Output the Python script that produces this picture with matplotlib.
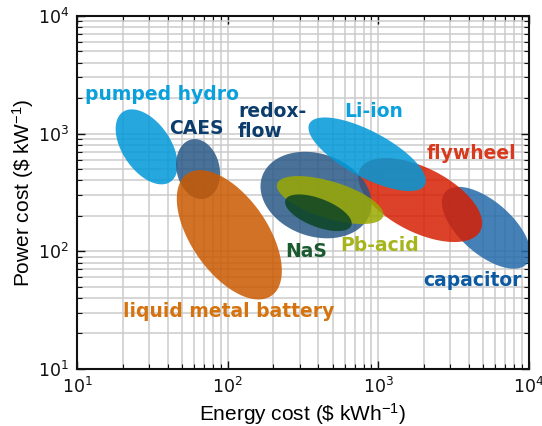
import numpy as np
import matplotlib
matplotlib.use("Agg")
import matplotlib.pyplot as plt

plt.rcParams["mathtext.default"] = "regular"

# Storage technologies, in drawing order (first drawn lies underneath)
techs = ["capacitor", "flywheel", "redox-flow", "Pb-acid", "NaS",
         "Li-ion", "pumped hydro", "CAES", "liquid metal battery"]

# Centre of each cost region
energy_cost = [5220, 1899, 386, 479, 400, 844, 28.9, 63.5, 102.4]   # $ kWh^-1
power_cost = [158, 272, 300, 272, 212, 667, 771, 499, 137.7]        # $ kW^-1

# Half-extent of each region in decades, and the energy/power correlation
energy_halfspan = [0.2945, 0.412, 0.369, 0.354, 0.2215, 0.390, 0.206, 0.146, 0.349]
power_halfspan = [0.348, 0.357, 0.368, 0.204, 0.156, 0.313, 0.319, 0.255, 0.550]
correlation = [-0.62, -0.55, -0.2, -0.6, -0.58, -0.72, -0.48, -0.15, -0.556]

fill_colors = {
    "capacitor": "#246bab",
    "flywheel": "#d61f03",
    "redox-flow": "#2a5986",
    "Pb-acid": "#9aa900",
    "NaS": "#0c4424",
    "Li-ion": "#0099d9",
    "pumped hydro": "#0099d9",
    "CAES": "#2a5986",
    "liquid metal battery": "#cb5900",
}

label_colors = {
    "capacitor": "#0b5aa2",
    "flywheel": "#d93a1e",
    "redox-flow": "#0b3c6b",
    "Pb-acid": "#a6b51c",
    "NaS": "#1a5a2e",
    "Li-ion": "#0aa0dc",
    "pumped hydro": "#0aa0dc",
    "CAES": "#0b3c6b",
    "liquid metal battery": "#d4730f",
}

# Label anchor points (data coordinates) and horizontal alignment
label_pos = {
    "pumped hydro": (36.3, 1946, "center"),
    "CAES": (62.0, 990, "center"),
    "redox-flow": (117.1, 939, "left"),
    "Li-ion": (939, 1390, "center"),
    "flywheel": (4147, 607, "center"),
    "NaS": (331.6, 88.6, "center"),
    "Pb-acid": (1021.6, 99.6, "center"),
    "capacitor": (4210, 50.2, "center"),
    "liquid metal battery": (102, 27.4, "center"),
}
label_text = {"redox-flow": "redox-\nflow"}

fig = plt.figure(figsize=(5.42, 4.26), dpi=100)
ax = fig.add_axes([0.1426, 0.1345, 0.8329, 0.8279])
ax.set_xscale("log")
ax.set_yscale("log")
ax.set_xlim(10, 1e4)
ax.set_ylim(10, 1e4)

ax.set_axisbelow(True)
ax.grid(which="both", color="#cbcbcb", lw=1.1)

t = np.linspace(0, 2 * np.pi, 300)
for name, ex, py, hx, hy, rho in zip(techs, energy_cost, power_cost,
                                       energy_halfspan, power_halfspan, correlation):
    lx = np.log10(ex) + hx * np.cos(t)
    ly = np.log10(py) + hy * (rho * np.cos(t) + np.sqrt(1 - rho ** 2) * np.sin(t))
    ax.fill(10 ** lx, 10 ** ly, color=fill_colors[name], alpha=0.85, lw=0, zorder=2)

for name, (x, y, ha) in label_pos.items():
    ax.text(x, y, label_text.get(name, name), color=label_colors[name],
            fontsize=13.5, fontweight="bold", family="DejaVu Sans",
            ha=ha, va="baseline", zorder=5, linespacing=1.05)

ax.tick_params(which="both", direction="in", top=True, right=True, colors="#111111")
ax.tick_params(which="major", length=6, width=1.0, labelsize=12.5, pad=6)
ax.tick_params(which="minor", length=3.5, width=0.8)
for lab in ax.get_xticklabels() + ax.get_yticklabels():
    lab.set_fontfamily("DejaVu Sans")
for s in ax.spines.values():
    s.set_linewidth(1.5)
    s.set_color("#111111")

ax.set_xlabel(r"Energy cost (\$ kWh$^{-1}$)", fontsize=15, family="Liberation Sans", labelpad=3)
ax.set_ylabel(r"Power cost (\$ kW$^{-1}$)", fontsize=15, family="Liberation Sans", labelpad=1)

fig.savefig("out.png", dpi=100)
